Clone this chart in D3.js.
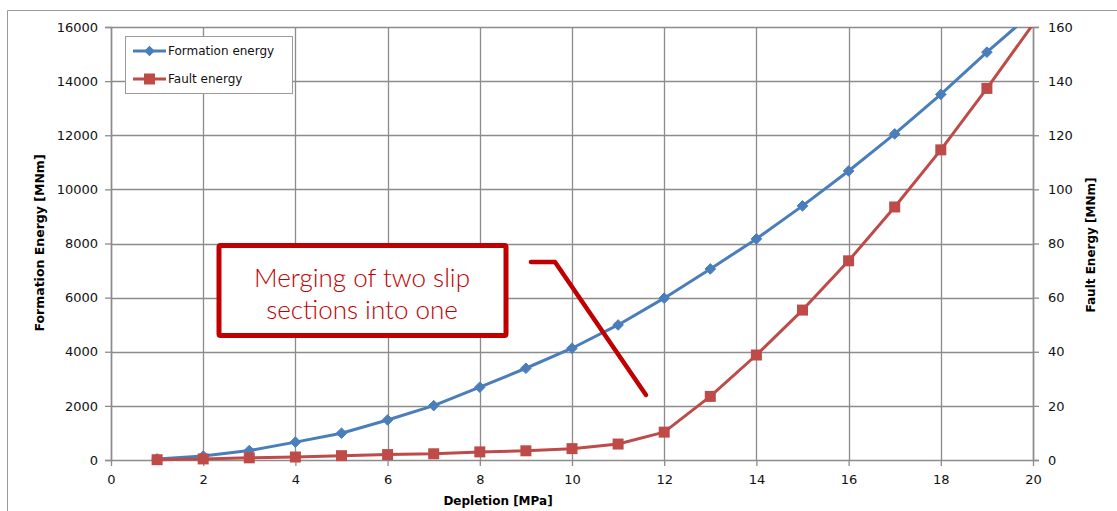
<!DOCTYPE html>
<html><head><meta charset="utf-8">
<script src="https://cdn.jsdelivr.net/npm/d3@7"></script>
<style>
html,body{margin:0;padding:0;background:#fff;}
svg{display:block;}
</style></head>
<body>
<script>
// ---- data ----
const depletion = [1,2,3,4,5,6,7,8,9,10,11,12,13,14,15,16,17,18,19,20];
const formationEnergy = [40,148,350,660,990,1480,2010,2690,3390,4130,4990,5980,7060,8170,9390,10680,12050,13510,15070,16550];
const faultEnergy = [0.1,0.4,0.8,1.1,1.6,2.0,2.3,3.0,3.4,4.2,5.9,10.3,23.5,38.8,55.4,73.6,93.5,114.6,137.3,161];
const xTicks = [0,2,4,6,8,10,12,14,16,18,20];
const yLeftTicks = [0,2000,4000,6000,8000,10000,12000,14000,16000];
const yRightTicks = [0,20,40,60,80,100,120,140,160];
const seriesNames = ["Formation energy","Fault energy"];
const annotationLines = ["Merging of two slip","sections into one"];

const W = 1117, H = 511;
const L = 111, R = 1033, T = 27, B = 460;
const svg = d3.select("body").append("svg").attr("width", W).attr("height", H);

const x = d3.scaleLinear().domain([0,20]).range([L,R]);
const yL = d3.scaleLinear().domain([0,16000]).range([B,T]);
const yR = d3.scaleLinear().domain([0,160]).range([B,T]);

const grid = "#8c8c8c";
const blue = "#4a7ebb", red = "#be4b48";
const font = "DejaVu Sans";

// outer frame
svg.append("path").attr("d", `M7.5,${H+5} V10.5 H${W+5}`).attr("fill","none").attr("stroke","#9a9a9a").attr("stroke-width",1);

// grid
svg.append("g").selectAll("line").data(yLeftTicks).join("line")
  .attr("x1",L).attr("x2",R).attr("y1",d=>Math.round(yL(d))+0.5).attr("y2",d=>Math.round(yL(d))+0.5)
  .attr("stroke",grid).attr("stroke-width",1.3);
svg.append("g").selectAll("line").data(xTicks).join("line")
  .attr("y1",T).attr("y2",B).attr("x1",d=>Math.round(x(d))+0.5).attr("x2",d=>Math.round(x(d))+0.5)
  .attr("stroke",grid).attr("stroke-width",1.3);

// axes
const axL = d3.axisLeft(yL).tickValues(yLeftTicks).tickSize(6).tickPadding(7).tickFormat(d3.format("d"));
const axR = d3.axisRight(yR).tickValues(yRightTicks).tickSize(6).tickPadding(9).tickFormat(d3.format("d"));
const axB = d3.axisBottom(x).tickValues(xTicks).tickSize(6).tickPadding(9).tickFormat(d3.format("d"));
function styleAxis(g){
  g.select(".domain").attr("stroke",grid).attr("stroke-width",1.5);
  g.selectAll(".tick line").attr("stroke",grid).attr("stroke-width",1.3);
  g.selectAll("text").attr("font-family",font).attr("font-size",13).attr("fill","#111");
}
svg.append("g").attr("transform",`translate(${L},0)`).call(axL).call(styleAxis);
svg.append("g").attr("transform",`translate(${R},0)`).call(axR).call(styleAxis);
svg.append("g").attr("transform",`translate(0,${B})`).call(axB).call(styleAxis)
  .selectAll(".domain").remove();

// axis titles
svg.append("text").attr("x",498).attr("y",505).attr("text-anchor","middle")
  .attr("font-family",font).attr("font-weight","bold").attr("font-size",12).text("Depletion [MPa]");
svg.append("text").attr("transform","translate(44,243) rotate(-90)").attr("text-anchor","middle")
  .attr("font-family",font).attr("font-weight","bold").attr("font-size",12.5).text("Formation Energy [MNm]");
svg.append("text").attr("transform","translate(1095,245) rotate(-90)").attr("text-anchor","middle")
  .attr("font-family",font).attr("font-weight","bold").attr("font-size",12).text("Fault Energy [MNm]");

// clip
svg.append("clipPath").attr("id","plotclip").append("rect").attr("x",L).attr("y",T).attr("width",R-L+2).attr("height",B-T+8);

const formData = depletion.map((d,i)=>({x:d,y:formationEnergy[i]}));
const faultData = depletion.map((d,i)=>({x:d,y:faultEnergy[i]}));

const plot = svg.append("g").attr("clip-path","url(#plotclip)");
plot.append("path").datum(formData).attr("fill","none").attr("stroke",blue).attr("stroke-width",3)
  .attr("stroke-linejoin","round").attr("d",d3.line().x(d=>x(d.x)).y(d=>yL(d.y)));
plot.append("path").datum(faultData).attr("fill","none").attr("stroke",red).attr("stroke-width",3)
  .attr("stroke-linejoin","round").attr("d",d3.line().x(d=>x(d.x)).y(d=>yR(d.y)));

const diamond = d3.symbol().type(d3.symbolDiamond2).size(72);
const square = d3.symbol().type(d3.symbolSquare).size(121);
svg.append("g").selectAll("path").data(formData.filter(d=>d.y<=16000)).join("path")
  .attr("transform",d=>`translate(${x(d.x)},${yL(d.y)})`).attr("d",diamond).attr("fill",blue)
  .attr("stroke",blue).attr("stroke-width",1).attr("stroke-linejoin","round");
svg.append("g").selectAll("path").data(faultData.filter(d=>d.y<=160)).join("path")
  .attr("transform",d=>`translate(${x(d.x)},${yR(d.y)})`).attr("d",square).attr("fill",red);

// legend
const lg = svg.append("g");
lg.append("rect").attr("x",125.5).attr("y",36.5).attr("width",167).attr("height",57)
  .attr("fill","#fff").attr("stroke","#9a9a9a").attr("stroke-width",1);
const legendItems = [{name:seriesNames[0],color:blue,sym:diamond,y:51},{name:seriesNames[1],color:red,sym:square,y:79}];
legendItems.forEach(it=>{
  lg.append("line").attr("x1",133).attr("x2",166).attr("y1",it.y).attr("y2",it.y).attr("stroke",it.color).attr("stroke-width",3);
  lg.append("path").attr("transform",`translate(149.5,${it.y})`).attr("d",it.sym).attr("fill",it.color);
  lg.append("text").attr("x",168).attr("y",it.y).attr("dy","0.35em").attr("font-family",font).attr("font-size",12)
    .attr("fill","#111").text(it.name);
});

// annotation
const annRed = "#c00000";
svg.append("rect").attr("x",219).attr("y",245.5).attr("width",287).attr("height",90)
  .attr("fill","#fff").attr("stroke",annRed).attr("stroke-width",5).attr("rx",1.5);
annotationLines.forEach((t,i)=>{
  svg.append("text").attr("x",362).attr("y",287+i*32).attr("text-anchor","middle")
    .attr("font-family","Lato").attr("font-weight",300).attr("font-size",26).attr("fill",annRed).text(t);
});
svg.append("path").attr("d","M531,262 L555,262 L646,395").attr("fill","none").attr("stroke",annRed)
  .attr("stroke-width",4.5).attr("stroke-linecap","round").attr("stroke-linejoin","round");
</script>
</body></html>
